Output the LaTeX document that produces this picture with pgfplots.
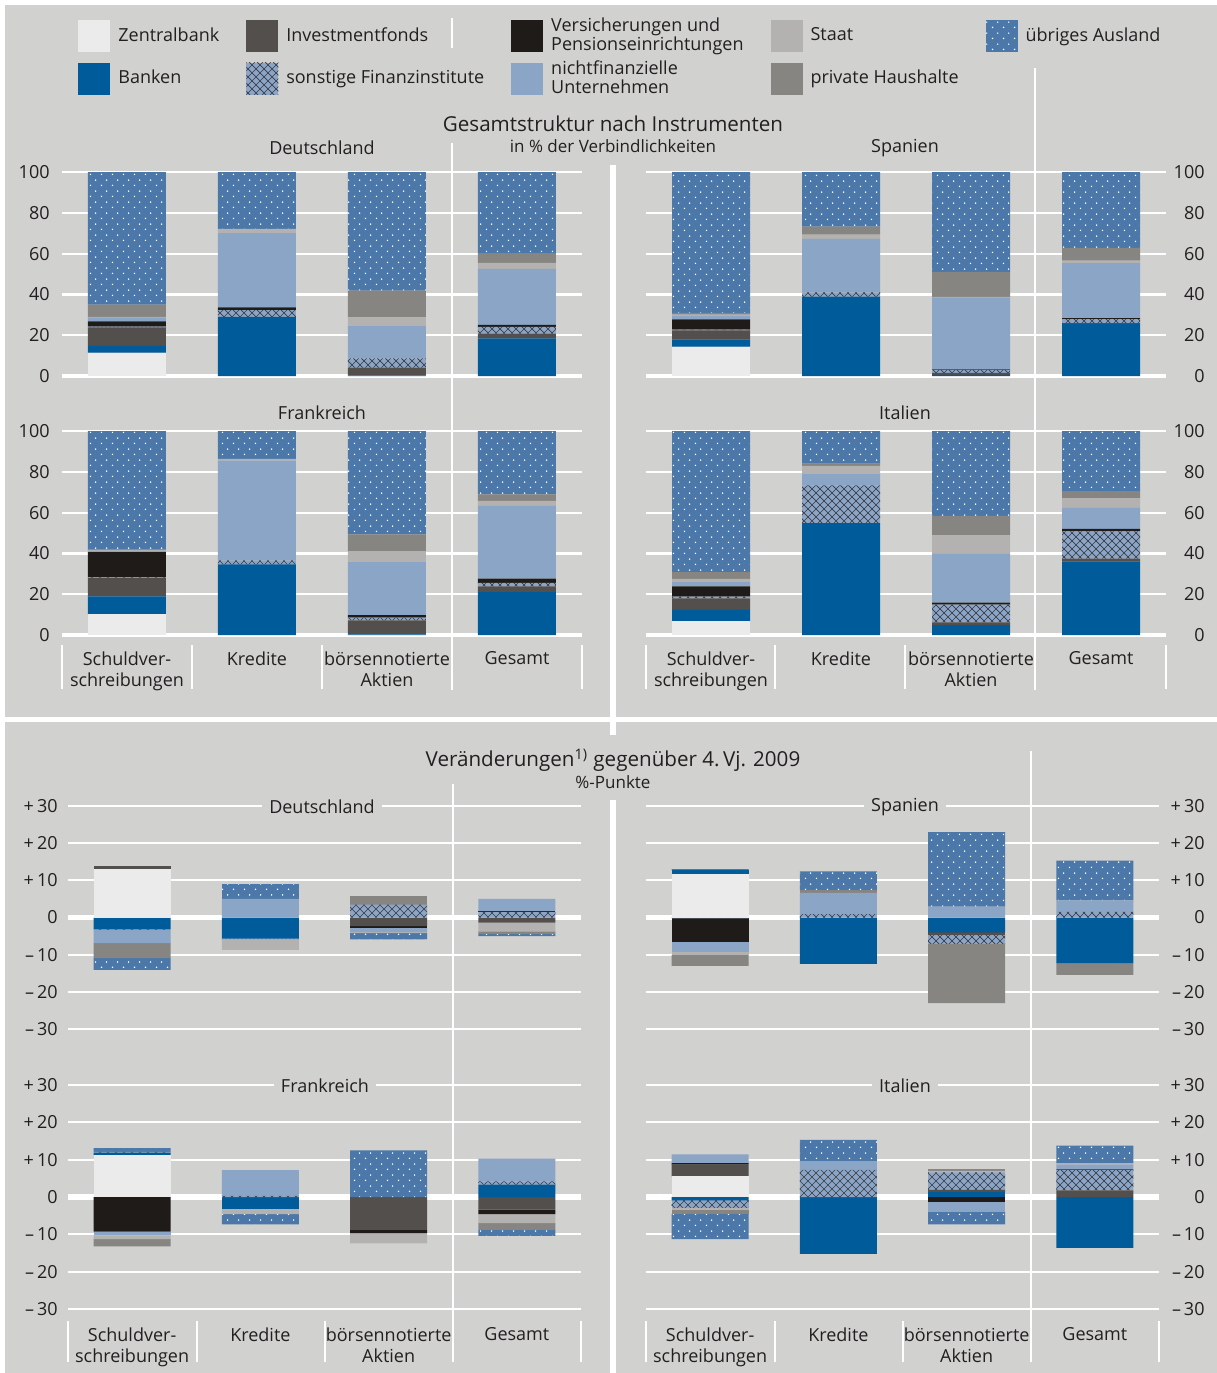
\documentclass[border=0pt]{standalone}
\usepackage{fontspec}
\setmainfont{Open Sans}
\usepackage{pgfplots}
\pgfplotsset{compat=1.18}
\usepackage{pgfplotstable}
\usetikzlibrary{patterns}

\definecolor{bg}{HTML}{D1D1D0}
\definecolor{cZB}{HTML}{EBEBEB}
\definecolor{cB}{HTML}{005B9A}
\definecolor{cIF}{HTML}{534F4C}
\definecolor{cNU}{HTML}{8BA5C6}
\definecolor{cVP}{HTML}{1E1B19}
\definecolor{cST}{HTML}{B3B2B0}
\definecolor{cPH}{HTML}{868582}
\definecolor{cUA}{HTML}{4B78A8}
\definecolor{hatch}{HTML}{3A3A42}
\definecolor{txt}{HTML}{231F20}

\pgfdeclarepatternformonly{sdots}{\pgfqpoint{0pt}{0pt}}{\pgfqpoint{5.5pt}{5.6pt}}{\pgfqpoint{5.5pt}{5.6pt}}{%
  \pgfpathcircle{\pgfqpoint{1.375pt}{1.4pt}}{0.45pt}%
  \pgfpathcircle{\pgfqpoint{4.125pt}{4.2pt}}{0.45pt}%
  \pgfusepath{fill}}
\pgfdeclarepatternformonly{xhatch}{\pgfqpoint{-0.5pt}{-0.5pt}}{\pgfqpoint{4.5pt}{4.5pt}}{\pgfqpoint{4pt}{4pt}}{%
  \pgfsetlinewidth{0.35pt}%
  \pgfpathmoveto{\pgfqpoint{0pt}{0pt}}\pgfpathlineto{\pgfqpoint{4pt}{4pt}}%
  \pgfpathmoveto{\pgfqpoint{0pt}{4pt}}\pgfpathlineto{\pgfqpoint{4pt}{0pt}}%
  \pgfusepath{stroke}}

% ---------- data: structure in % ----------
\pgfplotstableread{
x ZB B IF SF VP NU ST PH UA
0 11.5 3.3 9.0 0.4 2.6 2.0 0.2 6.0 65.0
1 0 29.0 0 3.3 1.3 36.4 2.1 0 27.9
2 0 0.2 3.9 4.6 0 15.7 4.3 13.1 58.2
3 0 18.5 2.3 3.3 1.0 27.4 3.0 4.8 39.7
}\tDE
\pgfplotstableread{
x ZB B IF SF VP NU ST PH UA
0 14.4 3.6 4.4 0.3 5.1 1.5 0.8 0.8 69.1
1 0 38.9 0 2.1 0 26.2 2.1 3.9 26.8
2 0 0.5 1.0 1.5 0.3 35.2 0.3 12.3 48.9
3 0 25.4 0.5 2.0 0.5 26.9 1.3 6.2 37.2
}\tES
\pgfplotstableread{
x ZB B IF SF VP NU ST PH UA
0 10.3 8.7 9.0 0.3 12.3 0.6 0.3 0.3 58.2
1 0 34.6 0 2.0 0 48.9 0.8 0 13.7
2 0 0.3 6.9 1.3 1.3 25.9 5.4 8.2 50.7
3 0 21.0 2.8 1.8 2.0 35.7 2.5 3.2 31.0
}\tFR
\pgfplotstableread{
x ZB B IF SF VP NU ST PH UA
0 6.7 5.6 5.7 0.8 5.1 2.3 1.3 3.3 69.2
1 0 54.9 0 18.5 0 5.7 3.8 1.1 16.0
2 0 4.9 1.3 8.7 1.0 23.9 9.0 9.6 41.6
3 0 36.1 1.3 13.4 1.2 10.3 4.8 3.4 29.5
}\tIT

% ---------- data: changes in %-points (positive and negative parts) ----------
\pgfplotstableread{
x ZBp Bp IFp SFp VPp NUp STp PHp UAp ZBn Bn IFn SFn VPn NUn STn PHn UAn
0 13.0 0 0.9 0 0 0 0 0 0 0 -3.2 0 -0.1 0 -3.6 0 -4.0 -3.2
1 0 0 0 0 0 5.0 0 0 4.0 0 -5.7 0 -0.1 0 0 -2.9 0 0
2 0 0 0 3.5 0 0 0 2.3 0 0 0 -2.3 0 -0.5 -1.1 -0.3 0 -1.7
3 0 0 0 1.5 0.3 3.2 0 0 0 0 0 -1.4 0 0 0 -2.3 -0.8 -0.5
}\bDE
\pgfplotstableread{
x ZBp Bp IFp SFp VPp NUp STp PHp UAp ZBn Bn IFn SFn VPn NUn STn PHn UAn
0 11.8 0.9 0 0 0 0 0 0 0.3 0 0 0 -0.2 -6.3 -2.7 -0.9 -2.9 0
1 0 0 0 0.9 0 5.7 0 0.7 5.1 0 -12.5 0 0 0 0 0 0 0
2 0 0 0 0 0 2.9 0 0 20.1 0 -4.0 -0.7 -2.4 0 0 0 -15.9 0
3 0 0 0 1.5 0 3.1 0 0 10.7 0 -12.3 0 0 0 0 0 -3.1 0
}\bES
\pgfplotstableread{
x ZBp Bp IFp SFp VPp NUp STp PHp UAp ZBn Bn IFn SFn VPn NUn STn PHn UAn
0 11.2 0.7 0 0.2 0 0 0 0 1.0 0 0 0 0 -9.3 -1.0 -1.0 -1.9 0
1 0 0 0 0.3 0 6.9 0 0 0 0 -3.2 0 0 0 0 -1.4 0 -2.7
2 0 0 0 0 0 0 0 0 12.5 0 0 -8.8 0 -0.9 0 -2.7 0 0
3 0 3.3 0 0.9 0 6.1 0 0 0 0 0 -3.4 0 -1.2 0 -2.4 -1.8 -1.6
}\bFR
\pgfplotstableread{
x ZBp Bp IFp SFp VPp NUp STp PHp UAp ZBn Bn IFn SFn VPn NUn STn PHn UAn
0 5.5 0 3.2 0 0.4 2.3 0 0 0 0 -0.9 0 -2.0 0 0 -0.5 -1.2 -6.7
1 0 0 0 7.3 0 2.3 0 0 5.7 0 -15.2 0 0 0 0 0 0 0
2 0 1.3 0.6 4.7 0 0 0.4 0.4 0 0 0 0 0 -1.3 -2.7 0 0 -3.3
3 0 0 1.8 5.4 0.2 1.3 0.3 0 4.8 0 -13.6 0 0 0 0 0 0 0
}\bIT

\pgfplotsset{
  sZB/.style={fill=cZB,draw=none},
  sB/.style={fill=cB,draw=none},
  sIF/.style={fill=cIF,draw=none},
  sSF/.style={fill=cNU,draw=none,postaction={pattern=xhatch,pattern color=hatch}},
  sVP/.style={fill=cVP,draw=none},
  sNU/.style={fill=cNU,draw=none},
  sST/.style={fill=cST,draw=none},
  sPH/.style={fill=cPH,draw=none},
  sUA/.style={fill=cUA,draw=none,postaction={pattern=sdots,pattern color=white}},
  base/.style={scale only axis, ybar stacked, bar width=0.6, xmin=-0.5, xmax=3.5,
    enlargelimits=false, axis line style={draw=none}, major tick length=0pt,
    ymajorgrids, grid style={white,line width=1.1pt}, xtick=\empty, anchor=south west,
    /pgf/number format/assume math mode=true,
    tick label style={font=\fontsize{9}{10.5}\selectfont, text=txt, inner sep=0pt},
    clip=false},
  topax/.style={base, width=260pt, height=102pt, ymin=0, ymax=100, ytick={0,20,...,100},
    extra y ticks={0}, extra y tick labels={}, extra y tick style={grid style={white,line width=2.2pt}}},
  botax/.style={base, width=256.5pt, ymin=-30, ymax=30, ytick={-30,-20,...,30},
    yticklabels={–\,30,–\,20,–\,10,0,+\,10,+\,20,+\,30}},
  toplab/.style={yticklabel style={anchor=east, xshift=-6pt}},
  toprlab/.style={yticklabel pos=right, yticklabel style={anchor=east, xshift=19.5pt}},
  botlab/.style={yticklabel style={anchor=east, xshift=-5pt}},
  botrlab/.style={yticklabel pos=right, yticklabel style={anchor=east, xshift=23pt}},
  catlab/.style={xtick={0,1,2,3},
    xticklabels={{Schuldver-\\schreibungen},Kredite,{börsennotierte\\Aktien},Gesamt},
    xticklabel style={align=center, anchor=north, yshift=-#1}},
  legimg/.style={legend image code/.code={\path[##1] (0pt,-8pt) rectangle (16pt,8pt);}},
}

\newcommand\topbars[1]{%
  \pgfplotsinvokeforeach{ZB,B,IF,SF,VP,NU,ST,PH,UA}{\addplot[s##1] table[x=x,y=##1]{#1};}}
\newcommand\botbars[1]{%
  \pgfplotsinvokeforeach{ZB,B,IF,SF,VP,NU,ST,PH,UA}{\addplot[s##1] table[x=x,y=##1p]{#1};}%
  \pgfplotsinvokeforeach{ZB,B,IF,SF,VP,NU,ST,PH,UA}{\addplot[s##1,forget plot] table[x=x,y=##1n]{#1};}%
  \draw[white,line width=2.6pt] (axis cs:-0.5,0) -- (axis cs:3.5,0);}

\begin{document}
\begin{tikzpicture}[every node/.append style={text=txt}]
\useasboundingbox (0,0) rectangle (608.5pt,-686.5pt);
\fill[white] (0,0) rectangle (608.5pt,-686.5pt);
\fill[bg] (2.5pt,-2.5pt) rectangle (608.5pt,-686.5pt);

\begin{scope}[x=0.5pt,y=-0.5pt,white]
  % section separators
  \draw[line width=2.8pt] (5,719.5) -- (1217,719.5);
  \draw[line width=2.7pt] (613,165) -- (613,735);
  \draw[line width=2.7pt] (613,800) -- (613,1373);
  % top group separators
  \draw[line width=1.4pt] (452,18) -- (452,48);
  \draw[line width=1.4pt] (452,143) -- (452,690);
  \draw[line width=1.4pt] (1035,68) -- (1035,690);
  \foreach \xx in {62,192,322,582,646,775,905,1166}
    \draw[line width=1.1pt] (\xx,645) -- (\xx,689);
  % bottom group separators
  \draw[line width=1.4pt] (453,784) -- (453,1362);
  \draw[line width=1.4pt] (1031,751) -- (1031,1362);
  \foreach \xx in {68,197,325,581,646,775,903,1159}
    \draw[line width=1.1pt] (\xx,1321) -- (\xx,1362);
\end{scope}

% ================= top: structure =================
\begin{axis}[topax, toplab, at={(31pt,-188pt)},
  legend columns=2, transpose legend,
  legend style={at={(0.0308,1.757)}, anchor=north west, draw=none, fill=none, inner sep=0pt,
    nodes={inner sep=0pt, text=txt}, font=\fontsize{9}{9.5}\selectfont, row sep=3.5pt,
    /tikz/every odd column/.append style={column sep=4pt},
    /tikz/every even column/.append style={column sep=13.5pt},
    cells={anchor=west, align=left}},
  legimg]
\topbars{\tDE}
\legend{Zentralbank, Banken, Investmentfonds, sonstige Finanzinstitute,
  {Versicherungen und\\Pensionseinrichtungen}, {nichtfinanzielle\\Unternehmen},
  Staat, private Haushalte, übriges Ausland}
\end{axis}

\begin{axis}[topax, toprlab, at={(323pt,-188pt)}]
\topbars{\tES}
\end{axis}

\begin{axis}[topax, toplab, catlab=8pt, at={(31pt,-317.5pt)}]
\topbars{\tFR}
\end{axis}

\begin{axis}[topax, toprlab, catlab=8pt, at={(323pt,-317.5pt)}]
\topbars{\tIT}
\end{axis}

% ================= bottom: changes =================
\begin{axis}[botax, botlab, height=111.5pt, at={(34pt,-514.5pt)}]
\botbars{\bDE}
\end{axis}

\begin{axis}[botax, botrlab, height=111.5pt, at={(323pt,-514.5pt)}]
\botbars{\bES}
\end{axis}

\begin{axis}[botax, botlab, catlab=9pt, height=112pt, at={(34pt,-654.5pt)}]
\botbars{\bFR}
\end{axis}

\begin{axis}[botax, botrlab, catlab=9pt, height=112pt, at={(323pt,-654.5pt)}]
\botbars{\bIT}
\end{axis}

% ================= titles =================
\begin{scope}[x=0.5pt,y=-0.5pt]
  \node[font=\fontsize{10.3}{12}\selectfont] at (613,124) {Gesamtstruktur nach Instrumenten};
  \node[font=\fontsize{8.5}{10}\selectfont] at (613,146) {in \% der Verbindlichkeiten};
  \node[font=\fontsize{9}{11}\selectfont] at (322,148) {Deutschland};
  \node[font=\fontsize{9}{11}\selectfont] at (905,148) {Spanien};
  \node[font=\fontsize{9}{11}\selectfont] at (322,413) {Frankreich};
  \node[font=\fontsize{9}{11}\selectfont] at (905,413) {Italien};
  \node[font=\fontsize{10.3}{12}\selectfont] at (613,760) {Veränderungen\textsuperscript{1)} gegenüber 4.\,Vj. 2009};
  \node[font=\fontsize{8.5}{10}\selectfont] at (613,782) {\%-Punkte};
  \tikzset{btitle/.style={fill=bg, inner xsep=3.5pt, inner ysep=1pt, font=\fontsize{9}{11}\selectfont}}
  \node[btitle] at (322,807) {Deutschland};
  \node[btitle] at (905,807) {Spanien};
  \node[btitle] at (325,1086) {Frankreich};
  \node[btitle] at (905,1086) {Italien};
\end{scope}
\end{tikzpicture}
\end{document}
